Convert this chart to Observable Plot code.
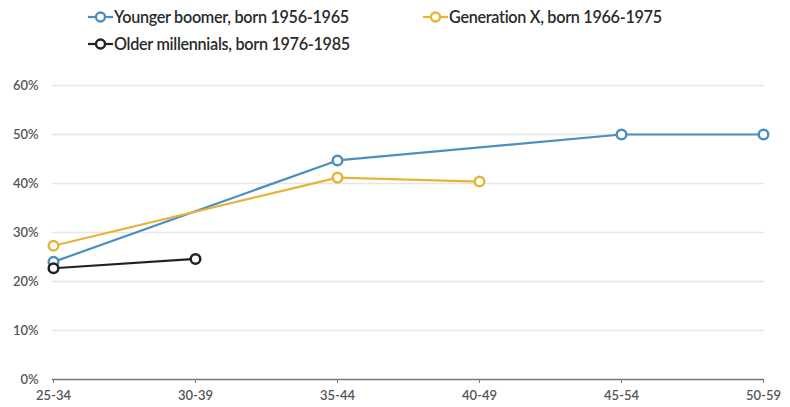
<!DOCTYPE html>
<html>
<head>
<meta charset="utf-8">
<script src="https://cdn.jsdelivr.net/npm/d3@7"></script>
<script src="https://cdn.jsdelivr.net/npm/@observablehq/plot@0.6"></script>
<style>
  body { margin: 0; background: #fff; font-family: Lato, "Open Sans", sans-serif; }
  #legend { position: relative; height: 60px; width: 790px; }
  .item { position: absolute; display: flex; align-items: center; font-size: 16.2px; color: #2a2a2a; font-weight: 600; white-space: nowrap; letter-spacing: -0.3px; }
  .item svg { margin-right: 1px; }
</style>
</head>
<body>
<div id="legend"></div>
<div id="chart"></div>
<script>
const ageGroups = ["25-34", "30-39", "35-44", "40-49", "45-54", "50-59"];
const seriesNames = ["Younger boomer, born 1956-1965", "Generation X, born 1966-1975", "Older millennials, born 1976-1985"];
const boomerValues = [24.0, null, 44.7, null, 50.0, 50.0];
const genXValues = [27.3, null, 41.2, 40.4, null, null];
const millennialValues = [22.7, 24.6, null, null, null, null];
const seriesColors = ["#4a8fc0", "#e8b437", "#222222"];
const yTicks = [0, 10, 20, 30, 40, 50, 60];

const allValues = [boomerValues, genXValues, millennialValues];
const data = [];
allValues.forEach((vals, si) => {
  vals.forEach((v, i) => {
    if (v != null) data.push({age: ageGroups[i], value: v, series: seriesNames[si]});
  });
});

// Legend
const legendPos = [
  {left: 88, top: 7},
  {left: 423, top: 7},
  {left: 88, top: 34}
];
const legend = document.getElementById("legend");
seriesNames.forEach((name, i) => {
  const d = document.createElement("div");
  d.className = "item";
  d.style.left = legendPos[i].left + "px";
  d.style.top = legendPos[i].top + "px";
  d.innerHTML = `<svg width="25" height="16"><line x1="0" y1="8" x2="25" y2="8" stroke="${seriesColors[i]}" stroke-width="2.2"/><circle cx="12.5" cy="8" r="4.5" fill="white" stroke="${seriesColors[i]}" stroke-width="2.4"/></svg>${name}`;
  legend.appendChild(d);
});

const chart = Plot.plot({
  width: 790,
  height: 347,
  marginLeft: 52,
  marginRight: 26,
  marginTop: 25,
  marginBottom: 28,
  style: {fontFamily: "Lato, 'Open Sans', sans-serif", fontSize: "13px", color: "#555", fontWeight: "600", overflow: "visible"},
  x: {type: "point", domain: ageGroups, padding: 0, label: null},
  y: {domain: [0, 60], label: null},
  color: {domain: seriesNames, range: seriesColors},
  marks: [
    Plot.gridY(yTicks.filter(t => t > 0), {stroke: "#e6e6e6", strokeOpacity: 1, strokeWidth: 1.5}),
    Plot.axisY(yTicks, {tickSize: 0, tickPadding: 14, tickFormat: d => d + "%", fill: "#555"}),
    Plot.ruleY([0], {stroke: "#777", strokeWidth: 1.6}),
    Plot.axisX(ageGroups, {tickSize: 4, tickPadding: 7, stroke: "#777", fill: "#555"}),
    Plot.line(data, {x: "age", y: "value", z: "series", stroke: "series", strokeWidth: 2.2}),
    Plot.dot(data, {x: "age", y: "value", stroke: "series", fill: "white", r: 4.8, strokeWidth: 2.5})
  ]
});
document.getElementById("chart").appendChild(chart);
</script>
</body>
</html>
